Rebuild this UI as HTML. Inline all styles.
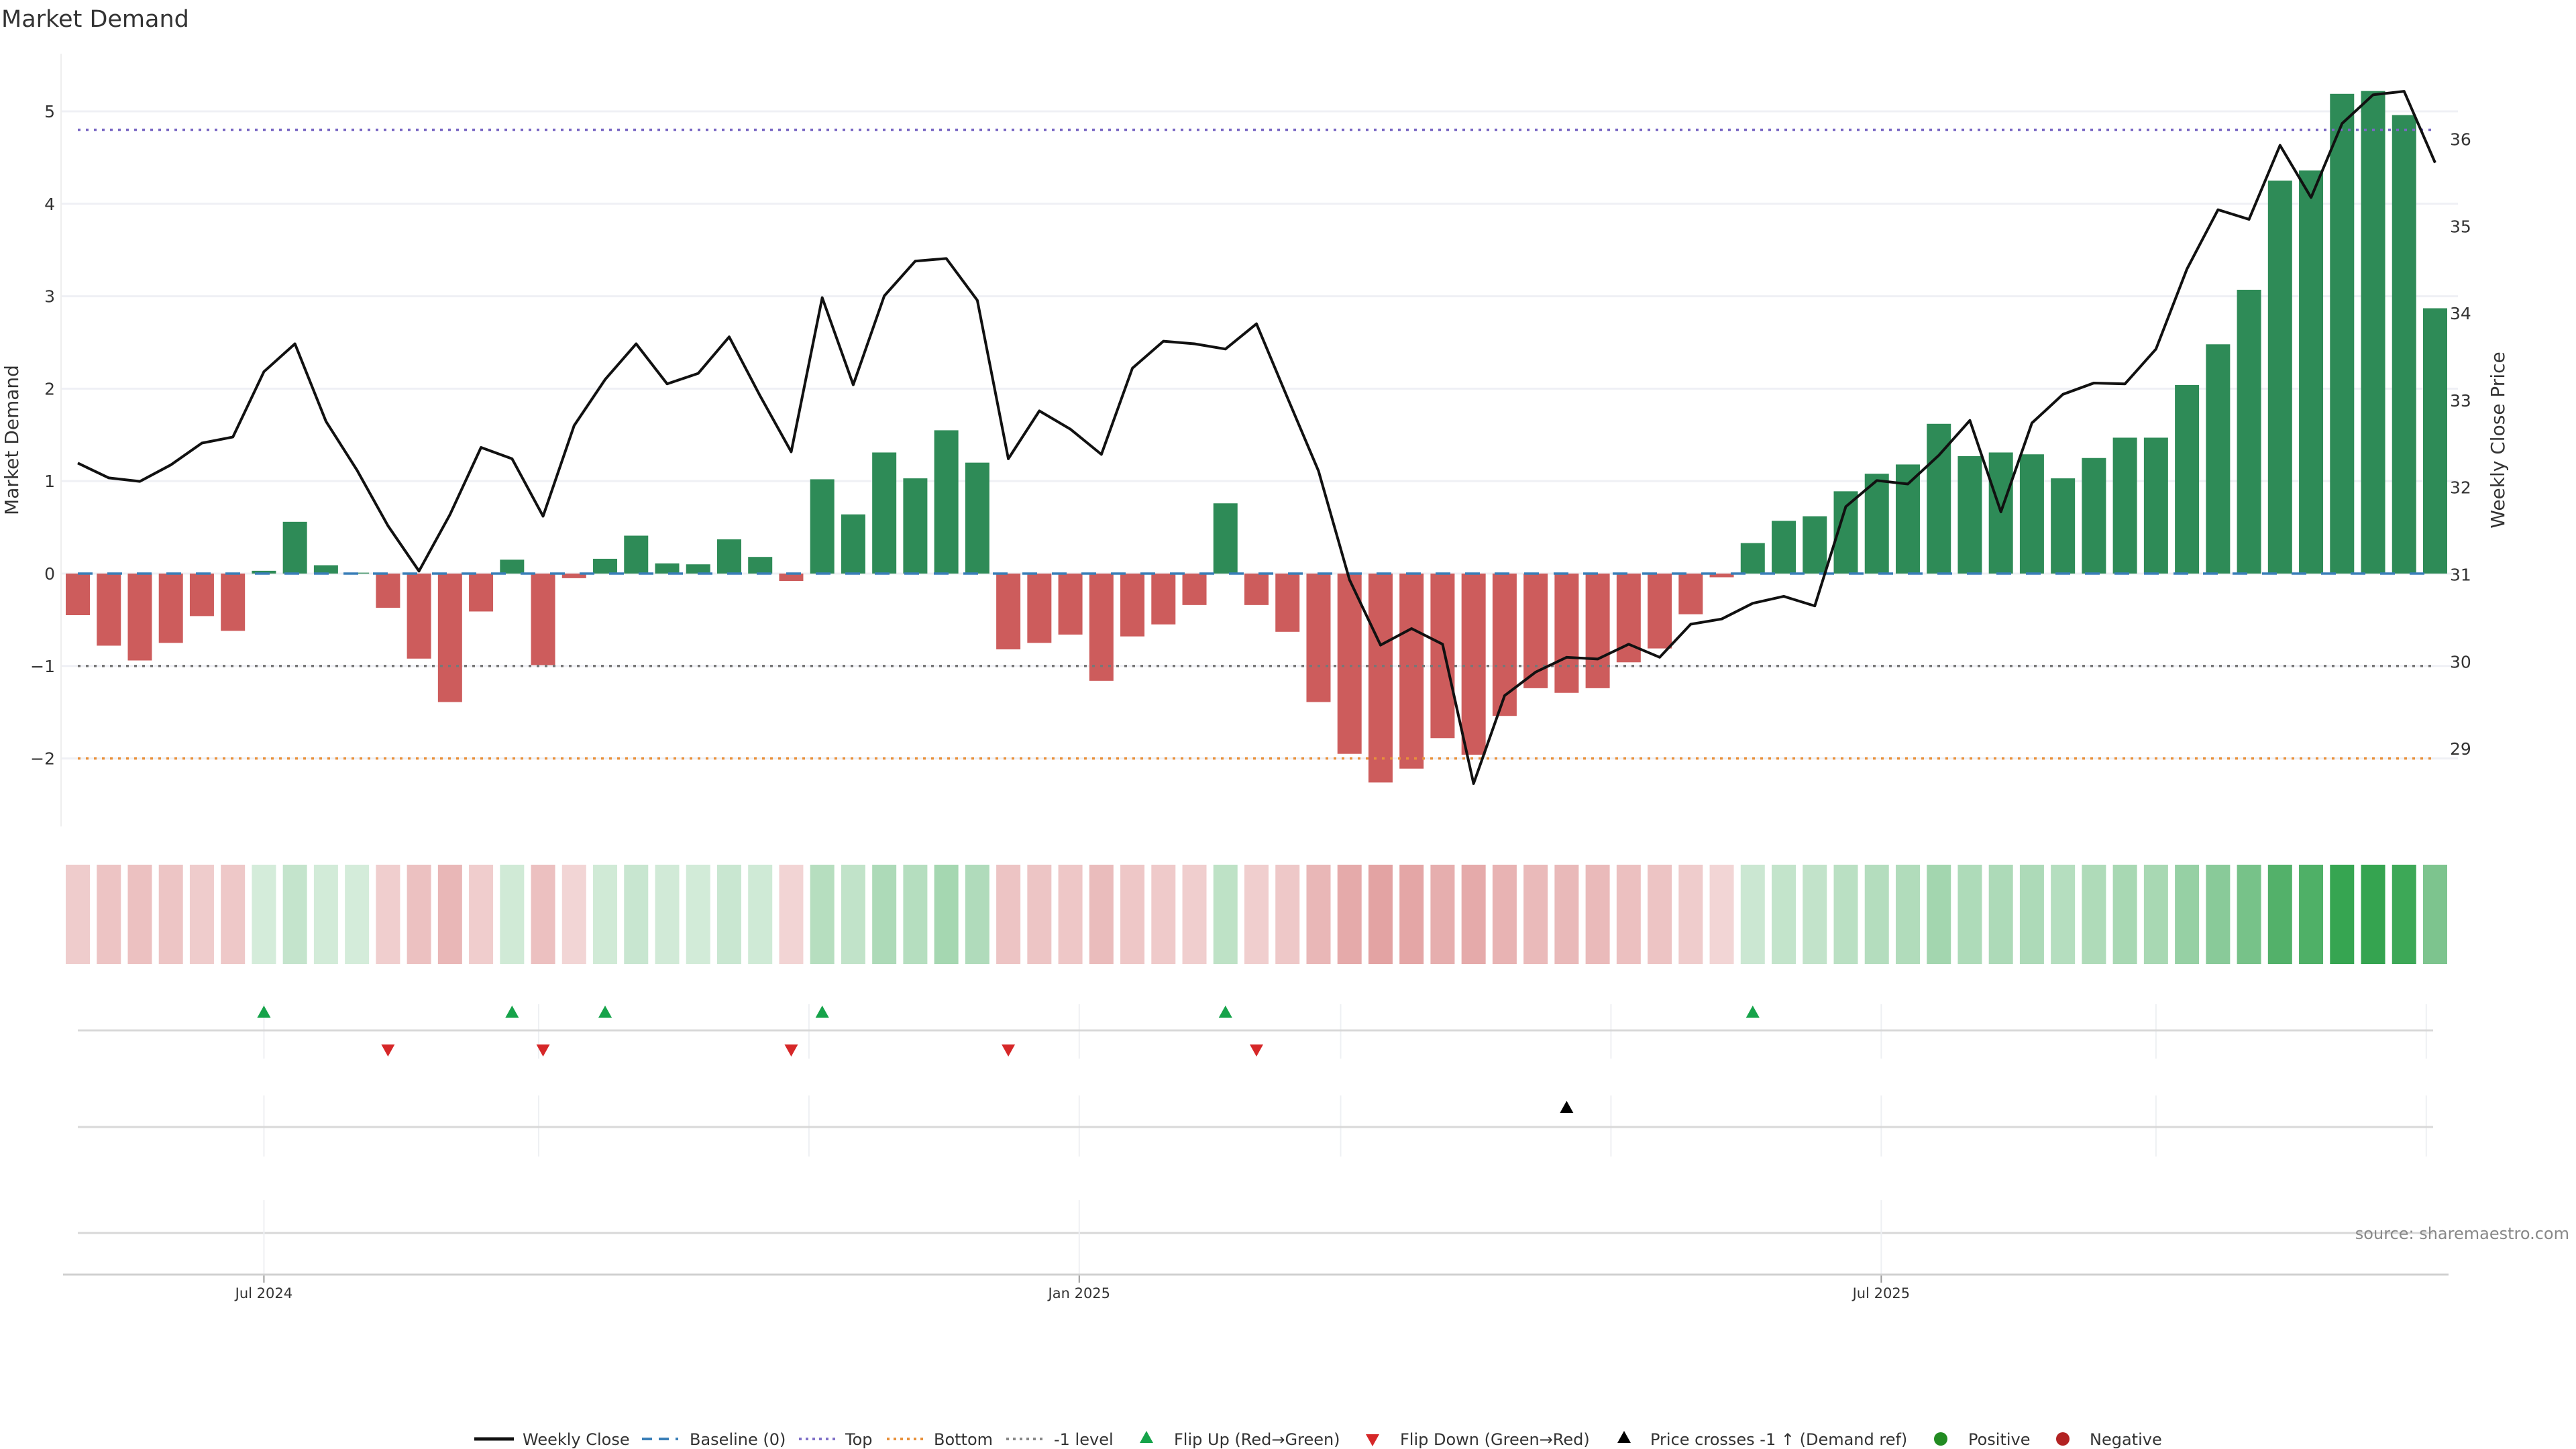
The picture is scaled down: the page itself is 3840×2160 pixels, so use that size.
<!DOCTYPE html>
<html><head><meta charset="utf-8"><title>Market Demand</title>
<style>
html,body{margin:0;padding:0;background:#fff;}
svg{display:block;font-family:"DejaVu Sans","Liberation Sans",sans-serif;}
</style></head>
<body>
<svg id="chart" xmlns="http://www.w3.org/2000/svg" width="3840" height="2160" viewBox="0 0 3840 2160">
<rect x="0" y="0" width="3840" height="2160" fill="#fff"/>
<text x="2" y="40" font-size="35" fill="#333">Market Demand</text>
<g id="grid"></g><g id="refs"></g><g id="bars"></g><g id="line"></g>
<g id="heat"></g><g id="panels"></g><g id="axes"></g><g id="legend"></g>
<text transform="translate(27,656) rotate(-90)" text-anchor="middle" font-size="28" fill="#333">Market Demand</text>
<text transform="translate(3733,656) rotate(-90)" text-anchor="middle" font-size="28" fill="#333">Weekly Close Price</text>
<text x="3830" y="1847" text-anchor="end" font-size="24" fill="#888">source: sharemaestro.com</text>
</svg>
<script>
const demand = [-0.45,-0.78,-0.94,-0.75,-0.46,-0.62,0.03,0.56,0.09,0.01,-0.37,-0.92,-1.39,-0.41,0.15,-0.99,-0.05,0.16,0.41,0.11,0.10,0.37,0.18,-0.08,1.02,0.64,1.31,
1.03,1.55,1.20,-0.82,-0.75,-0.66,-1.16,-0.68,-0.55,-0.34,0.76,-0.34,-0.63,-1.39,-1.95,-2.26,-2.11,-1.78,-1.96,-1.54,-1.24,-1.29,-1.24,-0.96,-0.81,-0.44,-0.04,0.33,0.57,
0.62,0.89,1.08,1.18,1.62,1.27,1.31,1.29,1.03,1.25,1.47,1.47,2.04,2.48,3.07,4.25,4.36,5.19,5.22,4.96,2.87];
const price = [32.28,32.11,32.07,32.26,32.51,32.58,33.33,33.65,32.76,32.20,31.56,31.04,31.69,32.46,32.33,31.67,32.71,33.24,33.65,33.19,33.31,33.73,33.05,32.41,34.18,33.18,34.2,
34.6,34.63,34.15,32.33,32.88,32.67,32.38,33.37,33.68,33.65,33.59,33.88,33.03,32.19,30.94,30.19,30.38,30.20,28.6,29.61,29.88,30.05,30.03,30.2,30.05,30.43,30.49,30.67,30.75,
30.64,31.78,32.08,32.04,32.37,32.77,31.72,32.74,33.07,33.2,33.19,33.59,34.51,35.19,35.08,35.93,35.33,36.18,36.51,36.55,35.73];
const startDate = "2024-05-20";
const leftTicks = [-2,-1,0,1,2,3,4,5];
const rightTicks = [29,30,31,32,33,34,35,36];
const topLevel = 4.8, bottomLevel = -2, minusLevel = -1;
const monthGrid = ["2024-07-01","2024-09-01","2024-11-01","2025-01-01","2025-03-01","2025-05-01","2025-07-01","2025-09-01","2025-11-01"];
const xTickDates = ["2024-07-01","2025-01-01","2025-07-01"];
const xTickLabels = ["Jul 2024","Jan 2025","Jul 2025"];

const NS="http://www.w3.org/2000/svg";
function mk(parent,tag,attrs){const e=document.createElementNS(NS,tag);for(const k in attrs)e.setAttribute(k,attrs[k]);document.getElementById(parent).appendChild(e);return e;}
const X0=116, STEP=(3630-116)/76, BW=36;
const xi=i=>X0+i*STEP;
const t0=Date.parse(startDate);
const xd=d=>X0+(Date.parse(d)-t0)/86400000/7*STEP;
const yL=v=>855-v*137.8;
const yR=p=>856.5-(p-31)*129.8;
const PLOT_L=91, PLOT_R=3664, XL=116, XR=3627;

leftTicks.forEach(v=>{
  const g=mk('grid','line',{x1:PLOT_L,x2:PLOT_R,y1:yL(v),y2:yL(v),stroke:'#eff0f5','stroke-width':3});
  
  
  const t=mk('axes','text',{x:82,y:yL(v)+9,'text-anchor':'end','font-size':25,fill:'#333'});
  t.textContent=(v<0?'\u2212'+Math.abs(v):String(v));
  
  
});
rightTicks.forEach(p=>{
  const t=mk('axes','text',{x:3652,y:yR(p)+9,'font-size':25,fill:'#333'});
  t.textContent=String(p);
  
  
});
const ax=mk('axes','line',{x1:PLOT_L,x2:PLOT_L,y1:80,y2:1232,stroke:'#eeeeee','stroke-width':2});



[[topLevel,'#7a68c4','4,8','top-line'],[minusLevel,'#777','4,8','minus-one-line'],[bottomLevel,'#e8903a','4,8','bottom-line']].forEach(r=>{
  const l=mk('refs','line',{x1:XL,x2:XR,y1:yL(r[0]),y2:yL(r[0]),stroke:r[1],'stroke-width':3.5,'stroke-dasharray':r[2]});
  
  
});

demand.forEach((v,i)=>{
  const y0=yL(0), y1=yL(v);
  const b=mk('bars','rect',{x:xi(i)-BW/2,y:Math.min(y0,y1),width:BW,height:Math.max(1,Math.abs(y1-y0)),fill:v>=0?'#2e8b57':'#cd5c5c'});
  
  
});
const bl=mk('refs','line',{x1:XL,x2:XR,y1:yL(0),y2:yL(0),stroke:'#3a7fb8','stroke-width':3.5,'stroke-dasharray':'22,22'});


document.getElementById('bars').after(document.getElementById('refs'));

const pl=mk('line','polyline',{points:price.map((p,i)=>xi(i)+','+yR(p)).join(' '),fill:'none',stroke:'#111','stroke-width':4,'stroke-linejoin':'round'});



demand.forEach((v,i)=>{
  let fill;
  if(v>=0){const a=Math.min(0.97,0.2+0.145*v);fill=`rgb(${Math.round(255-a*211)},${Math.round(255-a*95)},${Math.round(255-a*183)})`;}
  else{const a=Math.min(0.9,0.25+0.14*Math.abs(v));fill=`rgb(${Math.round(255-a*50)},${Math.round(255-a*163)},${Math.round(255-a*163)})`;}
  const c=mk('heat','rect',{x:xi(i)-BW/2,y:1289,width:BW,height:148,fill:fill});
  
  
});

monthGrid.forEach(d=>{
  const x=xd(d);
  [[1497,1578],[1633,1724]].forEach(r=>{
    const l=mk('panels','line',{x1:x,x2:x,y1:r[0],y2:r[1],stroke:'#eef0f3','stroke-width':2});
    
    
  });
});
[1536,1680,1838].forEach(y=>{
  const l=mk('panels','line',{x1:XL,x2:XR,y1:y,y2:y,stroke:'#d8d8d8','stroke-width':3});
  
  
});
xTickDates.forEach((d,k)=>{
  const x=xd(d);
  const g=mk('panels','line',{x1:x,x2:x,y1:1789,y2:1900,stroke:'#eef0f3','stroke-width':2});
  
  
  const tk=mk('axes','line',{x1:x,x2:x,y1:1900,y2:1912,stroke:'#999','stroke-width':2});
  
  
  const t=mk('axes','text',{x:x,y:1935,'text-anchor':'middle','font-size':21,fill:'#333'});
  t.textContent=xTickLabels[k];
  
  
});
const bx=mk('axes','line',{x1:94,x2:3650,y1:1900,y2:1900,stroke:'#d0d0d0','stroke-width':3});



function tri(parent,x,y,up,color){
  const h=18,w=20;
  const pts=up?`${x-w/2},${y+h/2} ${x+w/2},${y+h/2} ${x},${y-h/2}`:`${x-w/2},${y-h/2} ${x+w/2},${y-h/2} ${x},${y+h/2}`;
  return mk(parent,'polygon',{points:pts,fill:color});
}
for(let i=1;i<demand.length;i++){
  if(demand[i-1]<0&&demand[i]>=0){
    const m=tri('panels',xi(i),1508,true,'#16a34a');
    
    
  }
  if(demand[i-1]>=0&&demand[i]<0){
    const m=tri('panels',xi(i),1566,false,'#d62728');
    
    
  }
  if(price[i-1]<30&&price[i]>=30){
    const m=tri('panels',xi(i),1650,true,'#000');
    
    
  }
}

const LY=2145;
function ltext(x,s){const t=mk('legend','text',{x:x,y:LY+9,'font-size':24,fill:'#333'});t.textContent=s;return t;}
let e;
e=mk('legend','line',{x1:707,x2:766,y1:LY,y2:LY,stroke:'#111','stroke-width':5});

ltext(779,'Weekly Close');
e=mk('legend','line',{x1:957,x2:1011,y1:LY,y2:LY,stroke:'#3a7fb8','stroke-width':4,'stroke-dasharray':'15,10'});

ltext(1028,'Baseline (0)');
e=mk('legend','line',{x1:1191,x2:1245,y1:LY,y2:LY,stroke:'#8070c8','stroke-width':4,'stroke-dasharray':'4,6'});

ltext(1260,'Top');
e=mk('legend','line',{x1:1322,x2:1376,y1:LY,y2:LY,stroke:'#e8903a','stroke-width':4,'stroke-dasharray':'4,6'});

ltext(1392,'Bottom');
e=mk('legend','line',{x1:1500,x2:1554,y1:LY,y2:LY,stroke:'#888','stroke-width':4,'stroke-dasharray':'4,6'});

ltext(1571,'-1 level');
e=tri('legend',1709,LY-3,true,'#16a34a');

ltext(1750,'Flip Up (Red\u2192Green)');
e=tri('legend',2046,LY+2,false,'#d62728');

ltext(2087,'Flip Down (Green\u2192Red)');
e=tri('legend',2421,LY-3,true,'#000');

ltext(2460,'Price crosses -1 \u2191 (Demand ref)');
e=mk('legend','circle',{cx:2893,cy:LY,r:10,fill:'#228b22'});

ltext(2934,'Positive');
e=mk('legend','circle',{cx:3075,cy:LY,r:10,fill:'#b22222'});

ltext(3115,'Negative');
</script>
</body></html>
